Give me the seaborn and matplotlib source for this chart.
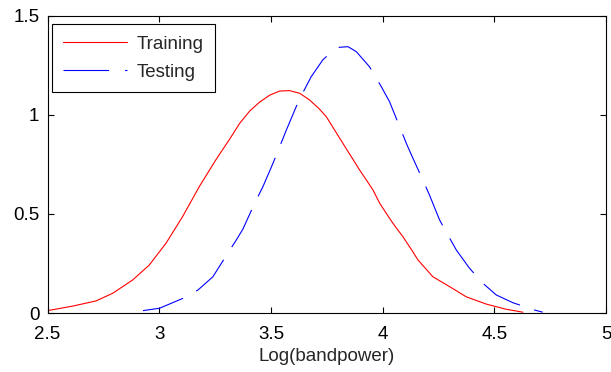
import numpy as np
import pandas as pd
import matplotlib
matplotlib.use("Agg")
import matplotlib.pyplot as plt
import seaborn as sns

train_x = [2.50, 2.613, 2.717, 2.792, 2.881, 2.955, 3.03, 3.104, 3.179, 3.253, 3.315, 3.360,
           3.405, 3.449, 3.494, 3.539, 3.583, 3.628, 3.673, 3.718, 3.748, 3.822, 3.897, 3.927,
           3.957, 3.987, 4.016, 4.046, 4.091, 4.135, 4.158, 4.225, 4.300, 4.374, 4.464, 4.553,
           4.628]
train_y = [0.012, 0.035, 0.061, 0.10, 0.167, 0.242, 0.352, 0.486, 0.638, 0.773, 0.878, 0.958,
           1.020, 1.065, 1.100, 1.121, 1.123, 1.110, 1.076, 1.029, 0.991, 0.857, 0.722, 0.672,
           0.621, 0.554, 0.504, 0.453, 0.385, 0.31, 0.268, 0.183, 0.133, 0.082, 0.045, 0.019,
           0.004]

test_x = [2.927, 3.001, 3.106, 3.173, 3.240, 3.292, 3.345, 3.374, 3.427, 3.464, 3.509, 3.539,
          3.569, 3.613, 3.643, 3.680, 3.732, 3.77, 3.807, 3.845, 3.882, 3.941, 3.994, 4.031,
          4.076, 4.106, 4.135, 4.180, 4.210, 4.255, 4.292, 4.330, 4.389, 4.449, 4.509, 4.583,
          4.680, 4.717]
test_y = [0.012, 0.024, 0.074, 0.116, 0.183, 0.276, 0.369, 0.423, 0.554, 0.638, 0.756, 0.84,
          0.924, 1.042, 1.113, 1.193, 1.278, 1.318, 1.342, 1.345, 1.320, 1.244, 1.143, 1.067,
          0.941, 0.857, 0.783, 0.672, 0.595, 0.470, 0.394, 0.318, 0.226, 0.150, 0.091, 0.052,
          0.015, 0.004]

series_names = ["Training", "Testing"]
x_ticks = [2.5, 3, 3.5, 4, 4.5, 5]
x_tick_labels = ["2.5", "3", "3.5", "4", "4.5", "5"]
y_ticks = [0, 0.5, 1, 1.5]
y_tick_labels = ["0", "0.5", "1", "1.5"]
x_label = "Log(bandpower)"

sns.set_style("white")
plt.rcParams['font.family'] = ['Liberation Sans', 'DejaVu Sans']

df_train = pd.DataFrame({"x": train_x, "y": train_y})
df_test = pd.DataFrame({"x": test_x, "y": test_y})

fig = plt.figure(figsize=(6.11, 3.72), dpi=100)
ax = fig.add_axes([0.0779, 0.1586, 0.9139, 0.7984])

sns.lineplot(data=df_train, x="x", y="y", ax=ax, color="#ff0000", lw=0.8,
             label=series_names[0], sort=False)
sns.lineplot(data=df_test, x="x", y="y", ax=ax, color="#0000ff", lw=0.8,
             linestyle=(0, (38, 13.5)), label=series_names[1], sort=False)

ax.set_xlim(2.5, 5)
ax.set_ylim(0, 1.5)
ax.set_xticks(x_ticks)
ax.set_xticklabels(x_tick_labels)
ax.set_yticks(y_ticks)
ax.set_yticklabels(y_tick_labels)
ax.set_xlabel(x_label, fontsize=13.5, labelpad=4)
ax.set_ylabel("")
ax.tick_params(axis="x", pad=9)
ax.tick_params(direction="in", length=4, width=0.8, labelsize=13.5, colors="black",
               top=True, right=True, bottom=True, left=True)
ax.tick_params(axis="y", pad=6)
for s in ax.spines.values():
    s.set_color("black")
    s.set_linewidth(0.8)

leg = ax.legend(loc="upper left", bbox_to_anchor=(0.007, 0.972), borderaxespad=0,
                fancybox=False, edgecolor="black", framealpha=1, fontsize=13.5,
                handlelength=3.4, handletextpad=0.55, borderpad=0.6, labelspacing=0.6)
leg.get_frame().set_linewidth(0.8)
leg.get_lines()[1].set_dashes((41, 14.4))

fig.savefig("out.png", dpi=100)
